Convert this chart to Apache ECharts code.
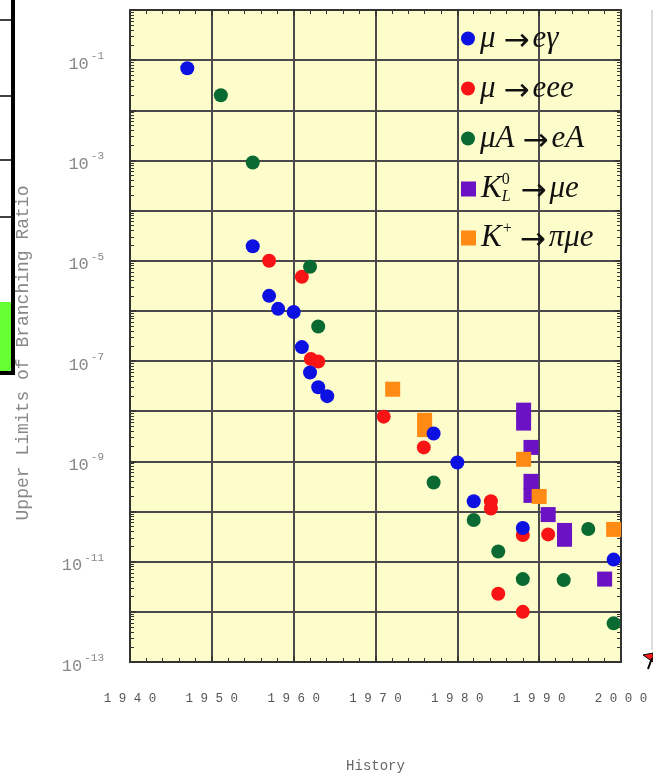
<!DOCTYPE html>
<html>
<head>
<meta charset="utf-8">
<script src="https://cdn.jsdelivr.net/npm/echarts@6/dist/echarts.min.js"></script>
<style>
  html, body { margin: 0; padding: 0; background: #fff; }
  #chart { width: 653px; height: 774px; }
</style>
</head>
<body>
<div id="chart"></div>
<script>
// years / upper limits
const muEgYears = [1947.0, 1955.0, 1957.0, 1958.1, 1960.0, 1961.0, 1962.0, 1963.0, 1964.1, 1977.1, 1980.0, 1982.0, 1988.0, 1999.1]
const muEgLimits = [6.9e-2, 1.95e-5, 2.0e-6, 1.1e-6, 9.5e-7, 1.9e-7, 5.9e-8, 3.0e-8, 2.0e-8, 3.6e-9, 9.5e-10, 1.6e-10, 4.7e-11, 1.1e-11]

const muEeeYears = [1957.0, 1961.0, 1962.1, 1963.0, 1971.0, 1975.9, 1984.1, 1984.1, 1988.0, 1991.1, 1985.0, 1988.0]
const muEeeLimits = [1.0e-5, 4.8e-6, 1.1e-7, 9.8e-8, 7.8e-9, 1.9e-9, 1.6e-10, 1.15e-10, 3.4e-11, 3.5e-11, 2.3e-12, 1.0e-12]

const muAeAYears = [1951.1, 1955.0, 1962.0, 1963.0, 1977.1, 1982.0, 1985.0, 1988.0, 1993.0, 1996.0, 1999.1]
const muAeALimits = [2.0e-2, 9.1e-4, 7.6e-6, 4.9e-7, 3.8e-10, 6.8e-11, 1.6e-11, 4.5e-12, 4.3e-12, 4.5e-11, 5.9e-13]

const kLYears = [1988.1, 1988.1, 1989.0, 1989.0, 1989.0, 1991.1, 1993.1, 1993.1, 1998.0]
const kLLimits = [1.05e-8, 5.8e-9, 1.9e-9, 4.0e-10, 2.1e-10, 8.7e-11, 4.2e-11, 2.8e-11, 4.5e-12]

const kPlusYears = [1972.1, 1976.0, 1976.0, 1988.1, 1990.0, 1999.1]
const kPlusLimits = [2.75e-8, 6.6e-9, 4.3e-9, 1.1e-9, 2.0e-10, 4.4e-11]

const names = ['μ → eγ', 'μ → eee', 'μA → eA', 'K_L^0 → μe', 'K^+ → πμe']
const richNames = {
  'μ → eγ': '{t|μ}{a|→}{t|eγ}',
  'μ → eee': '{t|μ}{a|→}{t|eee}',
  'μA → eA': '{t|μA}{a|→}{t|eA}',
  'K_L^0 → μe': '{t|K}{sup|0}{sub|L}{a|→}{t|μe}',
  'K^+ → πμe': '{t|K}{plus|+}{a|→}{t|πμe}'
}
const colors = ['#0c10e0', '#f81414', '#0a6a32', '#6a12c4', '#ff8a14']
const legendTops = [18, 68, 118, 167, 216]

const zip = (xs, ys) => xs.map((x, i) => [x, ys[i]])

const chart = echarts.init(document.getElementById('chart'))

const gridLine = { show: true, lineStyle: { color: '#4a4a4a', width: 2 } }
const frame = { show: true, onZero: false, lineStyle: { color: '#333', width: 2 } }

const legendText = {
  rich: {
    t: { fontFamily: 'Liberation Serif', fontStyle: 'italic', fontSize: 31, color: '#111' },
    a: { fontFamily: 'DejaVu Sans', fontSize: 31, color: '#111', padding: [6, 3, 0, 8] },
    sup: { fontFamily: 'Liberation Serif', fontSize: 16, color: '#111', width: 0, padding: [0, 0, 18, 0] },
    plus: { fontFamily: 'Liberation Serif', fontSize: 16, color: '#111', padding: [0, 0, 18, 1] },
    sub: { fontFamily: 'Liberation Serif', fontStyle: 'italic', fontSize: 16, color: '#111', padding: [16, 2, 0, 0] }
  }
}

const legends = names.map((n, i) => ({
  data: [{ name: n, icon: i < 3 ? 'circle' : 'rect' }],
  left: 456,
  top: legendTops[i],
  itemWidth: i < 3 ? 14 : 15,
  itemHeight: i < 3 ? 14 : 15,
  itemGap: 6,
  selectedMode: false,
  formatter: name => richNames[name],
  textStyle: legendText
}))

const scatter = (name, data, color, symbol, size, z) => ({
  name, type: 'scatter', data, symbol, symbolSize: size, z,
  itemStyle: { color, opacity: 1 }
})

chart.setOption({
  animation: false,
  backgroundColor: '#ffffff',
  legend: legends,
  grid: {
    left: 130, top: 10, width: 491, height: 652,
    outerBoundsMode: 'none', containLabel: false,
    show: true, backgroundColor: '#fdfccb', borderWidth: 0
  },
  xAxis: [
    {
      type: 'value', min: 1940, max: 2000, interval: 10, position: 'bottom',
      name: 'History', nameLocation: 'middle', nameGap: 97,
      nameTextStyle: { fontFamily: 'Liberation Mono', fontSize: 14, color: '#666' },
      axisLine: frame,
      axisTick: { show: true, inside: true, length: 6, lineStyle: { color: '#333', width: 1.5 } },
      minorTick: { show: true, splitNumber: 5, length: 4, lineStyle: { color: '#333', width: 1 } },
      splitLine: gridLine,
      axisLabel: {
        margin: 30, fontFamily: 'Liberation Mono', fontSize: 12.5, color: '#555',
        formatter: v => String(v).split('').join(' ')
      }
    },
    {
      type: 'value', min: 1940, max: 2000, interval: 10, position: 'top',
      axisLine: frame,
      axisTick: { show: true, inside: true, length: 6, lineStyle: { color: '#333', width: 1.5 } },
      minorTick: { show: true, splitNumber: 5, length: 4, lineStyle: { color: '#333', width: 1 } },
      splitLine: { show: false },
      axisLabel: { show: false }
    }
  ],
  yAxis: [
    {
      type: 'log', logBase: 10, min: 1e-13, max: 1, interval: 1, position: 'left',
      name: 'Upper Limits of Branching Ratio', nameLocation: 'middle', nameGap: 98,
      nameTextStyle: { fontFamily: 'Liberation Mono', fontSize: 18, color: '#888', padding: [0, 34, 0, 0] },
      axisLine: frame,
      axisTick: { show: true, inside: true, length: 6, lineStyle: { color: '#333', width: 1.5 } },
      minorTick: { show: true, splitNumber: 9, length: 4, lineStyle: { color: '#333', width: 1 } },
      splitLine: gridLine,
      axisLabel: {
        margin: 26,
        formatter: v => {
          const e = Math.round(Math.log10(v))
          if (e % 2 === 0) return ''
          return '{b|10}{s|' + e + '}'
        },
        rich: {
          b: { fontFamily: 'Liberation Mono', fontSize: 17, color: '#888', padding: [8, 2, 0, 0] },
          s: { fontFamily: 'Liberation Mono', fontSize: 11, color: '#888', padding: [0, 0, 8, 0] }
        }
      }
    },
    {
      type: 'log', logBase: 10, min: 1e-13, max: 1, interval: 1, position: 'right',
      axisLine: frame,
      axisTick: { show: true, inside: true, length: 6, lineStyle: { color: '#333', width: 1.5 } },
      minorTick: { show: true, splitNumber: 9, length: 4, lineStyle: { color: '#333', width: 1 } },
      splitLine: { show: false },
      axisLabel: { show: false }
    }
  ],
  graphic: [
    { type: 'rect', shape: { x: 0, y: 302, width: 12, height: 69 }, style: { fill: '#66ff33' } },
    { type: 'line', shape: { x1: 13, y1: 0, x2: 13, y2: 375 }, style: { stroke: '#000', lineWidth: 4 } },
    { type: 'line', shape: { x1: 0, y1: 373, x2: 15, y2: 373 }, style: { stroke: '#000', lineWidth: 4 } },
    { type: 'line', shape: { x1: 0, y1: 20, x2: 12, y2: 20 }, style: { stroke: '#000', lineWidth: 1.5 } },
    { type: 'line', shape: { x1: 0, y1: 96, x2: 12, y2: 96 }, style: { stroke: '#000', lineWidth: 1.5 } },
    { type: 'line', shape: { x1: 0, y1: 160, x2: 12, y2: 160 }, style: { stroke: '#000', lineWidth: 1.5 } },
    { type: 'line', shape: { x1: 0, y1: 217, x2: 12, y2: 217 }, style: { stroke: '#000', lineWidth: 1.5 } },
    { type: 'line', shape: { x1: 652, y1: 10, x2: 652, y2: 650 }, style: { stroke: '#cfcfcf', lineWidth: 1.5 } },
    { type: 'polygon', shape: { points: [[643, 655], [653, 653], [653, 662]] }, style: { fill: '#ff1a1a', stroke: '#000', lineWidth: 1 } },
    { type: 'line', shape: { x1: 652, y1: 658, x2: 648, y2: 669 }, style: { stroke: '#000', lineWidth: 2 } }
  ],
  series: [
    scatter(names[3], zip(kLYears, kLLimits), colors[3], 'rect', 15, 2),
    scatter(names[4], zip(kPlusYears, kPlusLimits), colors[4], 'rect', 15, 3),
    scatter(names[1], zip(muEeeYears, muEeeLimits), colors[1], 'circle', 14, 4),
    scatter(names[0], zip(muEgYears, muEgLimits), colors[0], 'circle', 14, 5),
    scatter(names[2], zip(muAeAYears, muAeALimits), colors[2], 'circle', 14, 6)
  ]
})
</script>
</body>
</html>
